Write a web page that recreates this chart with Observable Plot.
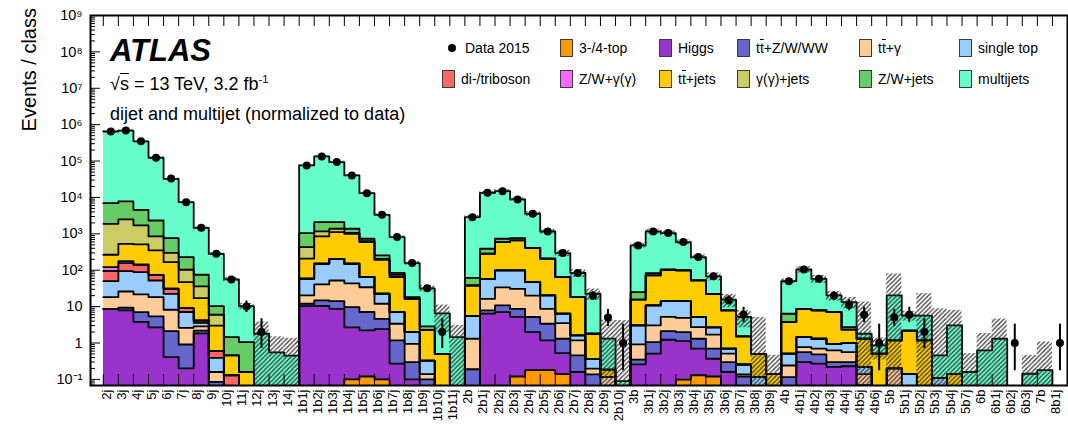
<!DOCTYPE html>
<html>
<head>
<meta charset="utf-8">
<script src="https://cdn.jsdelivr.net/npm/d3@7"></script>
<script src="https://cdn.jsdelivr.net/npm/@observablehq/plot@0.6"></script>
<style>
  body { margin: 0; background: #fff; }
  #wrap { position: relative; width: 1068px; height: 428px; overflow: hidden;
          font-family: "Liberation Sans", Arial, Helvetica, sans-serif; color: #000; }
  #chart { position: absolute; left: 0; top: 0; }
  .ann { position: absolute; white-space: nowrap; line-height: 1.2; }
  .atlas { font-size: 31px; font-weight: bold; font-style: italic; left: 110px; top: 31.5px; }
  .energy { font-size: 18px; left: 110px; top: 73.5px; }
  .sel { font-size: 18px; left: 110px; top: 103.5px; }
  .ol { text-decoration: overline; }
  .energy sup { font-size: 0.62em; vertical-align: 0.6em; line-height: 0; }
  .ytitle { position: absolute; left: 0; top: 0; width: 200px; text-align: right; font-size: 20px;
            line-height: 24px; transform-origin: 0 0; white-space: nowrap; }
  .leg { position: absolute; height: 20px; display: flex; align-items: center; font-size: 14px; white-space: nowrap; }
  .sw { width: 13px; height: 18px; box-sizing: border-box; border: 1px solid #3a3a3a; margin-right: 6px; flex: none; }
  .mk { width: 8px; height: 8px; border-radius: 50%; background: #000; margin: 0 9px 0 6px; flex: none; }
</style>
</head>
<body>
<div id="wrap">
  <div id="chart"></div>
  <div class="ytitle" id="ytitle">Events / class</div>
  <div class="ann atlas">ATLAS</div>
  <div class="ann energy">√<span class="ol">s</span> = 13 TeV, 3.2 fb<sup>-1</sup></div>
  <div class="ann sel">dijet and multijet (normalized to data)</div>
  <div id="legend"></div>
</div>
<script>
// Event classes (jet / b-jet multiplicity)
const categories = [
  "2j","3j","4j","5j","6j","7j","8j","9j","10j","11j","12j","13j","14j",
  "1b1j","1b2j","1b3j","1b4j","1b5j","1b6j","1b7j","1b8j","1b9j","1b10j","1b11j",
  "2b","2b1j","2b2j","2b3j","2b4j","2b5j","2b6j","2b7j","2b8j","2b9j","2b10j",
  "3b","3b1j","3b2j","3b3j","3b4j","3b5j","3b6j","3b7j","3b8j","3b9j",
  "4b","4b1j","4b2j","4b3j","4b4j","4b5j","4b6j",
  "5b","5b1j","5b2j","5b3j","5b4j","5b7j",
  "6b","6b1j","6b2j","6b3j",
  "7b","8b1j"
];

// Observed events (Data 2015)
const data2015 = [
  650000,690000,350000,123000,33000,7400,1470,284,56,10,2,0,0,
  76000,134000,94000,40000,13000,3340,815,157,32,2,0,
  2880,13400,14900,8800,3560,1160,296,84,20,5,1,
  480,1165,1050,593,230,68,15,6,0,0,
  50,105,58,20,11,6,1,
  5,6,2,0,0,0,
  0,0,1,0,
  0,1
];

// 68% Poisson intervals for the low-count classes
const poissonCount = [1, 2, 5, 6, 10, 11, 15, 20];
const poissonLow   = [0.173, 0.708, 2.84, 3.62, 6.89, 7.73, 11.17, 15.57];
const poissonHigh  = [3.30, 4.64, 8.38, 9.58, 14.27, 15.42, 19.95, 25.53];

// Expected events per background, stacked bottom to top
const threeFourTop = [
  0,0,0,0,0,0,0,0,0,0,0,0,0,
  0,0,0,0.1,0.12,0.1,0,0,0,0,0,
  0,0,0,0.12,0.18,0.18,0.14,0,0,0,0,
  0,0,0,0.098,0.13,0.12,0,0,0,0,
  0,0,0,0,0,0,0,
  0,0,0,0,0,0,
  0,0,0,0,
  0,0
];
const higgs = [
  8.5,7.9,3.8,2.7,0.41,0.2,1.84,0,0,0,0,0,0,
  10.3,10.4,8.7,2.6,2.1,2.3,0.27,0.1,0,0,0,
  0,6.4,7.1,5.1,1.8,1.0,0.39,0.16,0,0,0,
  0.26,0.51,1.23,1.03,0.57,0.25,0.16,0,0,0,
  0,0.3,0.27,0.22,0.23,0,0,
  0,0,0,0,0,0,
  0,0,0,0,
  0,0
];
const ttV = [
  0.2,1.4,3.3,2.7,1.7,0.71,0.36,0.085,0,0,0,0,0,
  1.7,4.4,5.5,7,4.9,2.2,0.91,0.2,0.1,0,0,
  0.19,1.5,3.7,3.5,3.2,2.2,0.78,0.3,0.137,0,0,
  0.09,0.55,0.9,0.87,0.61,0.33,0.14,0.12,0,0,
  0.116,0.26,0.22,0.08,0.07,0.07,0,
  0,0,0,0,0,0,
  0,0,0,0,
  0,0
];
const ttGamma = [
  9.6,16.7,14.5,12.9,6.1,1.7,0.66,0.075,0,0,0,0,0,
  8.3,26,38,34,27,7.4,2.2,0.65,0.04,0,0,
  1.12,8.5,23,22,15,5.3,2.2,0.72,0.06,0.116,0,
  0.57,2.0,3.1,2.9,1.43,1.0,0.21,0.017,0,0,
  0.125,0.21,0.21,0.33,0.26,0.07,0,
  0.2,0,0,0,0,0,
  0,0,0,0,
  0,0
];
const singleTop = [
  32,69,67,34,14.3,4.5,0.7,0.23,0,0,0,0,0,
  38,110,154,107,31,10.6,3.7,1.05,0.19,0,0,
  4.2,41.6,65,68,26.7,11.6,2.9,0.44,0.17,0,0,
  2.13,7.75,9,9.3,2.46,1.0,0.19,0.12,0.116,0,
  0.27,0.69,0.61,0.32,0.44,0.08,0,
  0,0.14,0,0.11,0,0,
  0,0,0,0,
  0,0
];
const diboson = [
  45,62,51,22.5,8.5,2,0.6,0.22,0.13,0,0,0,0,
  0,0,0,0,0,0,0,0,0,0,0,
  0,0,0,0,0,0,0,0,0,0,0,
  0,0,0,0,0,0,0,0,0,0,
  0,0,0,0,0,0,0,
  0,0,0,0,0,0,
  0,0,0,0,
  0,0
];
const vGamma = [
  27,21,4,0,0,0,0,0,0,0,0,0,0,
  0,0,0,0,0,0,0,0,0,0,0,
  0,0,0,0,0,0,0,0,0,0,0,
  0,0,0,0,0,0,0,0,0,0,
  0,0,0,0,0,0,0,
  0,0,0,0,0,0,
  0,0,0,0,
  0,0
];
const ttJets = [
  144,355,367,275,136,38,12.9,2.41,0.33,0.16,0,0,0,
  149,698,910,854,528,171,58,14.4,1.97,0.5,0,
  32.5,226,494,560,367,187,58.6,16.7,1.43,0.07,0,
  12.45,61,89,85,47.3,19.8,7.2,1.26,0.39,0.14,
  3.25,7.2,6.6,6.15,1.32,1.09,0.51,
  0.98,2.06,1.18,0,0.14,0,
  0,0,0,0,
  0,0
];
const gammaJets = [
  1620,1950,1190,500,134,56,19,2.96,0,0,0,0,0,
  226,316,263,55,40,11,10,0,0,0,0,
  0,0,0,0,0,0,0,0,0,0,0,
  0,0,0,0,0,0,0,0,0,0,
  0,0,0,0,0,0,0,
  0,0,0,0,0,0,
  0,0,0,0,
  0,0
];
const vJets = [
  5090,5280,2880,1480,461,126,39,4.3,1.0,0.9,0,0,0,
  617,935,720,320,100,50,10,1.9,0.56,0,0,
  24,105,140,105,0,0,0,0,0,0,0,
  9.5,11,0,0,0,0,0,0,0,0,
  2.6,0,0,0,0.42,0,0,
  0,0,0,0,0,0,
  0,0,0,0,
  0,0
];
const multijets = [
  643000,680000,345000,121000,31700,7200,1390,273,54.5,9.2,1.8,0.55,0.45,
  75000,132000,91400,39000,12400,3085,730,139,29,6.0,1.45,
  2820,12900,14200,8040,3150,953,231,65.7,20.8,1.13,0.09,
  455,1080,947,494,177,45.5,7.6,3.7,0,0,
  43.6,96,50,13.2,10.6,0.49,0.35,
  19.1,3.5,4.5,0.35,2.9,0.16,
  0.63,1.31,0,0.143,
  0.18,0
];

// Relative uncertainty on the total expectation (hatched band)
const totalUncertainty = [
  0.05,0.05,0.05,0.05,0.05,0.05,0.06,0.08,0.12,0.2,1.09,1.7,2.0,
  0.06,0.06,0.06,0.06,0.06,0.07,0.08,0.12,0.2,0.7,1.1,
  0.1,0.1,0.1,0.1,0.15,0.15,0.2,0.25,0.35,2.2,45,
  0.15,0.15,0.15,0.15,0.15,0.25,0.4,0.5,9,2.3,
  0.15,0.2,0.25,0.3,0.35,6.4,0.6,
  2.9,0.3,3,18,1.6,2.2,
  1.9,2.5,0,2.2,
  4.9,0
];

const series = [
  {name: "3-/4-top", color: "#ff9900", values: threeFourTop},
  {name: "Higgs", color: "#9933cc", values: higgs},
  {name: "t<span class='ol'>t</span>+Z/W/WW", color: "#6666cc", values: ttV},
  {name: "t<span class='ol'>t</span>+γ", color: "#ffcc99", values: ttGamma},
  {name: "single top", color: "#99ccff", values: singleTop},
  {name: "di-/triboson", color: "#ff6666", values: diboson},
  {name: "Z/W+γ(γ)", color: "#ff66ff", values: vGamma},
  {name: "t<span class='ol'>t</span>+jets", color: "#ffcc00", values: ttJets},
  {name: "γ(γ)+jets", color: "#cccc66", values: gammaJets},
  {name: "Z/W+jets", color: "#66cc66", values: vJets},
  {name: "multijets", color: "#66ffcc", values: multijets}
];

// ---- layout ----
const W = 1068, H = 428, ML = 90, MR = 1, MT = 15, MB = 43;
const n = categories.length;
const X_MIN = -0.85, X_MAX = n;
const Y_MIN = 0.068, Y_MAX = 1e9;
const FLOOR = 1e-4;
const pxPerBin = (W - ML - MR) / (X_MAX - X_MIN);
const pxPerDecade = (H - MT - MB) / Math.log10(Y_MAX / Y_MIN);

// ---- stacked histogram ----
const stackRects = [];
const outline = [];
let base = new Array(n).fill(0);
series.forEach((s, k) => {
  const top = base.map((b, i) => b + s.values[i]);
  s.values.forEach((v, i) => {
    if (v > 0) stackRects.push({i, y1: Math.max(base[i], FLOOR), y2: top[i], color: s.color});
  });
  top.forEach((v, i) => {
    const y = Math.max(v, FLOOR);
    outline.push({k, x: i, y}, {k, x: i + 1, y});
  });
  base = top;
});
const total = base;

const band = [];
total.forEach((t, i) => {
  if (t > 0 && totalUncertainty[i] > 0) {
    const lo = t * (1 - totalUncertainty[i]);
    band.push({i, y1: lo > 0 ? lo : FLOOR, y2: t * (1 + totalUncertainty[i])});
  }
});

const points = data2015.map((v, i) => ({i, v})).filter(d => d.v > 0);
const errBars = points
  .filter(d => poissonCount.includes(d.v))
  .map(d => {
    const j = poissonCount.indexOf(d.v);
    return {i: d.i, lo: poissonLow[j], hi: poissonHigh[j]};
  });

// ---- axis ticks ----
const supMap = {"-": "⁻", "0": "⁰", "1": "¹", "2": "²", "3": "³", "4": "⁴", "5": "⁵", "6": "⁶", "7": "⁷", "8": "⁸", "9": "⁹"};
const yMajor = d3.range(-1, 10).map(k => Math.pow(10, k));
const yMinor = [];
for (let k = -2; k <= 8; k++) for (let m = 2; m <= 9; m++) {
  const v = m * Math.pow(10, k);
  if (v > Y_MIN && v < Y_MAX) yMinor.push(v);
}
const fmtY = v => {
  const k = Math.round(Math.log10(v));
  if (k === 0) return "1";
  if (k === 1) return "10";
  return "10" + String(k).split("").map(c => supMap[c]).join("");
};
const edges = d3.range(n + 1);
const xTickSpan = Math.pow(10, 11 / pxPerDecade);

const chart = Plot.plot({
  width: W, height: H,
  marginLeft: ML, marginRight: MR, marginTop: MT, marginBottom: MB,
  style: {fontFamily: "'Liberation Sans', Arial, Helvetica, sans-serif", background: "white", color: "black", overflow: "visible"},
  x: {type: "linear", domain: [X_MIN, X_MAX], axis: null},
  y: {type: "log", domain: [Y_MIN, Y_MAX], axis: null},
  color: {type: "identity"},
  marks: [
    Plot.rect(stackRects, {x1: d => d.i, x2: d => d.i + 1, y1: "y1", y2: "y2", fill: "color", shapeRendering: "crispEdges", clip: true}),
    Plot.line(outline, {x: "x", y: "y", z: "k", stroke: "black", strokeWidth: 1.8, clip: true}),
    Plot.rect(band, {x1: d => d.i, x2: d => d.i + 1, y1: "y1", y2: "y2", fill: "url(#hatch)", clip: true}),
    // ticks drawn inward, ROOT style
    Plot.ruleX(edges, {x: d => d, y1: Y_MIN, y2: Y_MIN * xTickSpan, stroke: "black", strokeWidth: 1}),
    Plot.ruleX(edges, {x: d => d, y1: Y_MAX, y2: Y_MAX / xTickSpan, stroke: "black", strokeWidth: 1}),
    Plot.ruleY(yMajor, {y: d => d, x1: X_MIN, x2: X_MIN + 10 / pxPerBin, stroke: "black", strokeWidth: 1}),
    Plot.ruleY(yMinor, {y: d => d, x1: X_MIN, x2: X_MIN + 5 / pxPerBin, stroke: "black", strokeWidth: 1}),
    Plot.frame({stroke: "black", strokeWidth: 2}),
    Plot.ruleX(errBars, {x: d => d.i + 0.5, y1: "lo", y2: "hi", stroke: "black", strokeWidth: 2, clip: true}),
    Plot.dot(points, {x: d => d.i + 0.5, y: "v", r: 4, fill: "black", stroke: "none"}),
    Plot.text(yMajor, {y: d => d, frameAnchor: "left", text: fmtY, textAnchor: "end", dx: -8, fontSize: 14.5}),
    Plot.text(categories, {x: (d, i) => i + 0.5, frameAnchor: "bottom", text: d => d, rotate: -90, textAnchor: "end", dy: 4, fontSize: 13})
  ]
});

// hatch pattern for the uncertainty band
const defs = d3.select(chart).insert("defs", ":first-child");
defs.append("pattern")
  .attr("id", "hatch").attr("patternUnits", "userSpaceOnUse")
  .attr("width", 4.5).attr("height", 4.5)
  .append("path")
  .attr("d", "M-1,1 L1,-1 M0,4.5 L4.5,0 M3.5,5.5 L5.5,3.5")
  .attr("stroke", "#333").attr("stroke-width", 1.15);

document.getElementById("chart").appendChild(chart);

// y-axis title, rotated, anchored at the top of the axis
document.getElementById("ytitle").style.transform = "translate(17px, 208px) rotate(-90deg)";

// legend
const legendColX = [442, 560, 659, 737, 859, 959];
const legendRowY = [48, 79];
const legendItems = [{name: "Data 2015", marker: true}, ...series];
const legend = document.getElementById("legend");
legendItems.forEach((item, idx) => {
  const row = Math.floor(idx / 6), col = idx % 6;
  const el = document.createElement("div");
  el.className = "leg";
  el.style.left = legendColX[col] + "px";
  el.style.top = (legendRowY[row] - 10) + "px";
  el.innerHTML = (item.marker
    ? `<span class="mk"></span>`
    : `<span class="sw" style="background:${item.color}"></span>`) + `<span>${item.name}</span>`;
  legend.appendChild(el);
});
</script>
</body>
</html>
